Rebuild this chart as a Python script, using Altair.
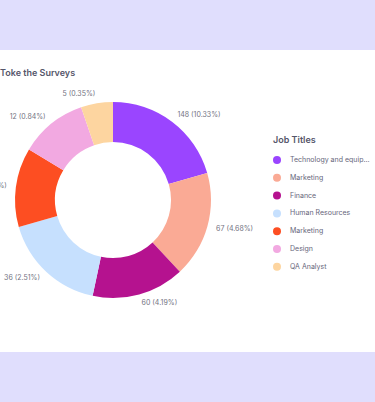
import json
import altair as alt
import pandas as pd

# ---- data ----
job_titles = ["Technology and equipment", "Marketing", "Finance", "Human Resources",
              "Marketing", "Design", "QA Analyst"]
counts = [148, 67, 60, 36, 54, 12, 5]
percents = [10.33, 4.68, 4.19, 2.51, 3.77, 0.84, 0.35]
# slice sizes as drawn in the reference (degrees of the ring)
arc_share = [74, 63, 55, 62, 47, 40, 19]
colors = ["#9A45FF", "#FAAA95", "#B5128F", "#C6E0FE", "#FD4E22", "#F2A9E1", "#FDD5A0"]

df = pd.DataFrame({
    "idx": list(range(len(job_titles))),
    "title": job_titles,
    "count": counts,
    "pct": percents,
    "share": arc_share,
})
df["label"] = [f"{c} ({p:.2f}%)" for c, p in zip(counts, percents)]

FONT = "Inter"
total = sum(arc_share)
cx, cy = 113, 150

theta_scale = alt.Scale(domain=[0, total])
label_expr = json.dumps(job_titles) + "[datum.value]"

base = alt.Chart(df)

arcs = base.mark_arc(outerRadius=98, innerRadius=58, stroke=None).encode(
    theta=alt.Theta("share:Q", stack=True, scale=theta_scale),
    order=alt.Order("idx:Q"),
    color=alt.Color(
        "idx:N",
        scale=alt.Scale(domain=list(range(len(job_titles))), range=colors),
        legend=alt.Legend(
            title="Job Titles",
            orient="none",
            legendX=273,
            legendY=86,
            titleFont=FONT,
            titleFontSize=9,
            titleFontWeight=600,
            titleColor="#55566a",
            titlePadding=11,
            labelFont=FONT,
            labelFontSize=7,
            labelColor="#66667a",
            labelExpr=label_expr,
            labelLimit=81,
            labelOffset=9,
            symbolType="circle",
            symbolSize=64,
            symbolStrokeWidth=0,
            rowPadding=9.8,
            padding=0,
        ),
    ),
    x=alt.value(cx),
    y=alt.value(cy),
)

labelled = base.transform_window(
    cum="sum(share)", sort=[alt.SortField("idx")]
).transform_calculate(
    mid="datum.cum - datum.share / 2"
)

text_style = dict(radius=107, baseline="middle", font=FONT, fontSize=7, color="#72727f")

right_labels = labelled.transform_filter("datum.mid < 180").mark_text(
    align="left", **text_style
).encode(
    theta=alt.Theta("mid:Q", stack=False, scale=theta_scale),
    text="label:N",
    x=alt.value(cx),
    y=alt.value(cy),
)

left_labels = labelled.transform_filter("datum.mid >= 180").mark_text(
    align="right", **text_style
).encode(
    theta=alt.Theta("mid:Q", stack=False, scale=theta_scale),
    text="label:N",
    x=alt.value(cx),
    y=alt.value(cy),
)

chart = alt.layer(arcs, right_labels, left_labels).properties(
    width=375,
    height=302,
    autosize=alt.AutoSizeParams(type="none"),
    padding={"left": 0, "top": 50, "right": 0, "bottom": 50},
    background="#E0DEFD",
    title=alt.TitleParams(
        "Toke the Surveys",
        anchor="start",
        frame="group",
        offset=-35,
        baseline="alphabetic",
        font=FONT,
        fontSize=9,
        fontWeight=600,
        color="#55566a",
    ),
).configure_view(fill="white", strokeWidth=0)

chart.save("out.html", embed_options={"renderer": "svg", "actions": False})
